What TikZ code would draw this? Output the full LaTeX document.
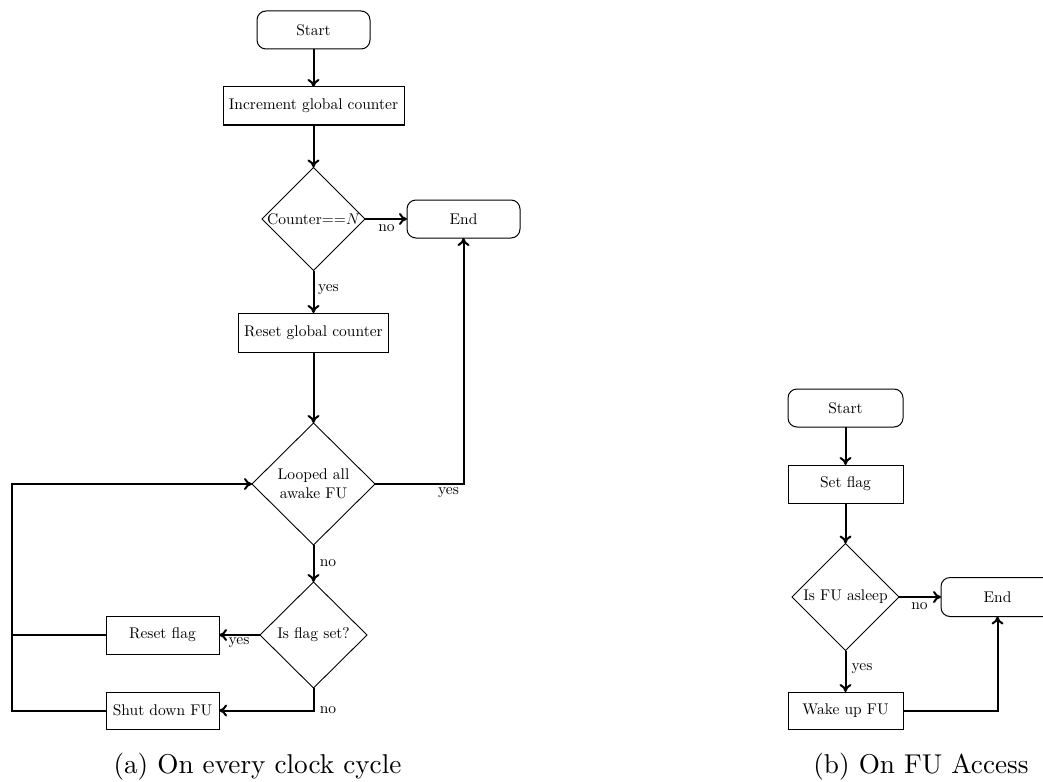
\RequirePackage{fix-cm}
\documentclass[tikz,border=0pt]{standalone}
\usepackage{fontspec}
\setmainfont{lmroman10-regular}[Extension=.otf, ItalicFont=lmroman10-italic, BoldFont=lmroman10-bold]
\usetikzlibrary{shapes.geometric,arrows.meta}
\begin{document}
\begin{tikzpicture}[x=1pt,y=-1pt,
  every node/.style={inner sep=0pt, outer sep=0pt},
  lbl/.style={font=\fontsize{15.5}{18.5}\selectfont},
  subcap/.style={font=\fontsize{27.2}{32}\selectfont, anchor=base},
  term/.style={draw, rounded corners=9pt, line width=1pt, lbl, minimum width=113pt, minimum height=38pt},
  proc/.style={draw, line width=1pt, lbl, minimum height=38pt},
  dec/.style={draw, diamond, aspect=1, line width=0.9pt},
  conn/.style={line width=2pt, -{Computer Modern Rightarrow[length=8pt,width=12pt]}},
  wire/.style={line width=2pt},
]
\useasboundingbox (0,0) rectangle (1043,781);
\clip (0,0) rectangle (1043,781);

% ---------- (a) clock-cycle flow ----------
\node[term] (s1) at (313.5,30) {Start};
\node[proc, minimum width=181pt] (inc) at (313.5,106) {Increment global counter};
\node[dec, minimum width=103pt, minimum height=103pt] (cnt) at (313.5,219) {};
\node[lbl] (cntt) at (cnt) {Counter==$N$};
\node[term] (e1) at (463.5,219) {End};
\node[proc, minimum width=150pt, minimum height=39pt] (rgc) at (313.5,332.5) {Reset global counter};
\node[dec, minimum width=123pt, minimum height=122pt] (lp) at (313.5,484) {};
\node[lbl, align=center] (lpt) at (lp) {Looped all\\awake FU};
\node[dec, minimum width=107pt, minimum height=106pt] (fl) at (313.5,635) {};
\node[lbl] (flt) at (fl) {Is flag set?};
\node[proc, minimum width=113pt] (rf) at (162.5,635) {Reset flag};
\node[proc, minimum width=113pt, minimum height=37pt] (sd) at (162.5,710.5) {Shut down FU};
\coordinate (back) at (12,484);

\draw[conn] (s1.south) -- (inc.north);
\draw[conn] (inc.south) -- (cnt.north);
\draw[conn] (cnt.east) -- (e1.west);
\draw[conn] (cnt.south) -- (rgc.north);
\draw[conn] (rgc.south) -- (lp.north);
\draw[conn] (lp.east) -| (e1.south);
\draw[conn] (lp.south) -- (fl.north);
\draw[conn] (fl.west) -- (rf.east);
\draw[conn] (fl.south) |- (sd.east);
\draw[wire] (rf.west) -- (rf.west -| back);
\draw[conn] (sd.west) -| (back) -- (lp.west);

\node[lbl] (n1) at (386.5,228) {no};
\node[lbl, anchor=west] (y1) at (318,290) {yes};
\node[lbl] (y2) at (448.5,493) {yes};
\node[lbl] (n2) at (328,563) {no};
\node[lbl] (y3) at (239,643) {yes};
\node[lbl] (n3) at (328,710) {no};

% ---------- (b) FU-access flow ----------
\node[term, minimum width=115pt] (s2) at (845.5,408) {Start};
\node[proc, minimum width=115pt] (sf) at (845.5,484) {Set flag};
\node[dec, minimum width=107pt, minimum height=107pt] (as) at (845.5,597) {};
\node[lbl] (ast) at (as) {Is FU asleep};
\node[term, minimum height=39pt] (e2) at (997.5,597) {End};
\node[proc, minimum width=115pt, minimum height=37pt] (wk) at (845.5,710.5) {Wake up FU};

\draw[conn] (s2.south) -- (sf.north);
\draw[conn] (sf.south) -- (as.north);
\draw[conn] (as.east) -- (e2.west);
\draw[conn] (as.south) -- (wk.north);
\draw[conn] (wk.east) -| (e2.south);

\node[lbl] (n4) at (919.5,606) {no};
\node[lbl] (y4) at (862,669) {yes};

% ---------- captions ----------
\node[subcap] (ca) at (257.5,773) {(a) On every clock cycle};
\node[subcap] (cb) at (921,773) {(b) On FU Access};
\end{tikzpicture}
\end{document}
